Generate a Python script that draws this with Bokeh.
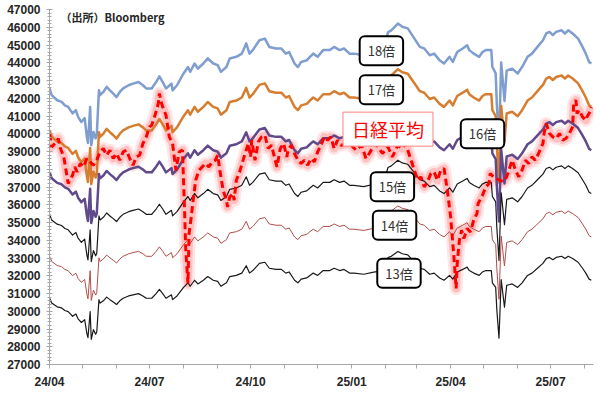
import pandas as pd
from bokeh.plotting import figure
from bokeh.models import Range1d, SingleIntervalTicker, FixedTicker, Label, CustomJSTickFormatter
from bokeh.embed import file_html
from bokeh.resources import INLINE

# ---------------- data ----------------
# Nikkei 225 12-month forward EPS (yen); PER bands = EPS x multiple
eps_dates = [
    "2024-04-01", "2024-04-03", "2024-04-08", "2024-04-12", "2024-04-15", "2024-04-18", "2024-04-22", "2024-04-25", "2024-04-27", "2024-04-30",
    "2024-05-03", "2024-05-05", "2024-05-06", "2024-05-08", "2024-05-09", "2024-05-11", "2024-05-13", "2024-05-14", "2024-05-16", "2024-05-17",
    "2024-05-20", "2024-05-23", "2024-05-26", "2024-05-29",
    "2024-06-01", "2024-06-04", "2024-06-07", "2024-06-12", "2024-06-16", "2024-06-21", "2024-06-25", "2024-06-28",
    "2024-07-03", "2024-07-07", "2024-07-10", "2024-07-13", "2024-07-16", "2024-07-21", "2024-07-22", "2024-07-26",
    "2024-08-01", "2024-08-05", "2024-08-07", "2024-08-11", "2024-08-14", "2024-08-19", "2024-08-23", "2024-08-28",
    "2024-09-01", "2024-09-04", "2024-09-09", "2024-09-12", "2024-09-18", "2024-09-23", "2024-09-27", "2024-09-30",
    "2024-10-03", "2024-10-09", "2024-10-14", "2024-10-18", "2024-10-24", "2024-10-29",
    "2024-11-02", "2024-11-05", "2024-11-10", "2024-11-13", "2024-11-16", "2024-11-21", "2024-11-24", "2024-11-27",
    "2024-12-01", "2024-12-06", "2024-12-12", "2024-12-16", "2024-12-21", "2024-12-25", "2024-12-30",
    "2025-01-03", "2025-01-12", "2025-01-21", "2025-01-30",
    "2025-02-03", "2025-02-06", "2025-02-12", "2025-02-16", "2025-02-21", "2025-02-25",
    "2025-03-04", "2025-03-08", "2025-03-13", "2025-03-17", "2025-03-22", "2025-03-26", "2025-03-31",
    "2025-04-03", "2025-04-07", "2025-04-12", "2025-04-16", "2025-04-18", "2025-04-22", "2025-04-27", "2025-04-30",
    "2025-05-03", "2025-05-08", "2025-05-09", "2025-05-12", "2025-05-13", "2025-05-15", "2025-05-17", "2025-05-20", "2025-05-22", "2025-05-27",
    "2025-06-01", "2025-06-05", "2025-06-10", "2025-06-14", "2025-06-19", "2025-06-24", "2025-06-27", "2025-06-30",
    "2025-07-03", "2025-07-06", "2025-07-11", "2025-07-14", "2025-07-17", "2025-07-21", "2025-07-26", "2025-07-30",
    "2025-08-02", "2025-08-05", "2025-08-07",
]
eps_values = [
    2365, 2343, 2327, 2322, 2311, 2306, 2286, 2296, 2275, 2259,
    2271, 2212, 2193, 2306, 2186, 2228, 2208, 2218, 2358, 2343,
    2353, 2369, 2358, 2348,
    2337, 2353, 2364, 2374, 2379, 2384, 2374, 2364,
    2364, 2384, 2402, 2384, 2364, 2379, 2358, 2374,
    2411, 2431, 2416, 2442, 2426, 2442, 2458, 2442,
    2437, 2416, 2431, 2458, 2463, 2473, 2505, 2473,
    2484, 2515, 2520, 2494, 2489, 2489,
    2473, 2478, 2442, 2431, 2447, 2452, 2463, 2473,
    2463, 2484, 2484, 2494, 2484, 2489, 2473,
    2473, 2468, 2477, 2484,
    2540, 2546, 2567, 2557, 2552, 2531,
    2494, 2489, 2468, 2473, 2452, 2442, 2463,
    2447, 2478, 2489, 2499, 2484, 2473, 2463, 2478,
    2484, 2484, 2431, 2411, 2317, 2191, 2445, 2325, 2420, 2426,
    2411, 2431, 2463, 2473, 2494, 2515, 2536, 2541,
    2531, 2541, 2546, 2536, 2546, 2536, 2520, 2494,
    2473, 2447, 2442,
]

nikkei_dates = [
    "2024-04-01", "2024-04-03", "2024-04-06", "2024-04-09", "2024-04-11", "2024-04-14", "2024-04-16", "2024-04-18", "2024-04-22", "2024-04-24", "2024-04-26", "2024-04-29",
    "2024-05-02", "2024-05-05", "2024-05-08", "2024-05-11", "2024-05-14", "2024-05-17", "2024-05-20", "2024-05-23", "2024-05-26", "2024-05-29",
    "2024-06-01", "2024-06-04", "2024-06-07", "2024-06-10", "2024-06-13", "2024-06-16", "2024-06-19", "2024-06-22", "2024-06-25", "2024-06-28",
    "2024-07-01", "2024-07-03", "2024-07-06", "2024-07-09", "2024-07-10", "2024-07-12", "2024-07-13", "2024-07-16", "2024-07-19", "2024-07-22", "2024-07-25", "2024-07-28", "2024-07-31",
    "2024-08-02", "2024-08-03", "2024-08-05", "2024-08-06", "2024-08-08", "2024-08-09", "2024-08-12", "2024-08-15", "2024-08-18", "2024-08-21", "2024-08-24", "2024-08-27", "2024-08-30",
    "2024-09-01", "2024-09-03", "2024-09-06", "2024-09-09", "2024-09-10", "2024-09-12", "2024-09-15", "2024-09-16", "2024-09-18", "2024-09-21", "2024-09-26", "2024-09-29",
    "2024-10-01", "2024-10-02", "2024-10-05", "2024-10-08", "2024-10-11", "2024-10-14", "2024-10-17", "2024-10-20", "2024-10-23", "2024-10-25", "2024-10-28", "2024-10-31",
    "2024-11-03", "2024-11-04", "2024-11-07", "2024-11-10", "2024-11-13", "2024-11-16", "2024-11-19", "2024-11-22", "2024-11-25", "2024-11-28",
    "2024-12-01", "2024-12-04", "2024-12-07", "2024-12-10", "2024-12-13", "2024-12-16", "2024-12-19", "2024-12-22", "2024-12-30",
    "2025-01-05", "2025-01-10", "2025-01-14", "2025-01-17", "2025-01-22", "2025-01-25", "2025-01-29",
    "2025-02-03", "2025-02-07", "2025-02-12", "2025-02-16", "2025-02-19", "2025-02-24", "2025-02-27",
    "2025-03-02", "2025-03-05", "2025-03-08", "2025-03-11", "2025-03-14", "2025-03-17", "2025-03-20", "2025-03-23", "2025-03-26", "2025-03-29",
    "2025-04-01", "2025-04-04", "2025-04-06", "2025-04-07", "2025-04-09", "2025-04-10", "2025-04-11", "2025-04-13", "2025-04-16", "2025-04-19", "2025-04-22", "2025-04-25", "2025-04-26", "2025-04-30",
    "2025-05-03", "2025-05-06", "2025-05-07", "2025-05-11", "2025-05-15", "2025-05-19", "2025-05-22", "2025-05-25", "2025-05-27", "2025-05-30",
    "2025-06-02", "2025-06-05", "2025-06-08", "2025-06-11", "2025-06-14", "2025-06-17", "2025-06-20", "2025-06-24", "2025-06-25", "2025-06-27", "2025-06-30",
    "2025-07-03", "2025-07-06", "2025-07-09", "2025-07-12", "2025-07-15", "2025-07-18", "2025-07-21", "2025-07-22", "2025-07-24", "2025-07-25", "2025-07-27", "2025-07-30",
    "2025-08-02", "2025-08-03", "2025-08-05", "2025-08-07",
]
nikkei_values = [
    40000, 39259, 39450, 39732, 39169, 38695, 37946, 37197, 37664, 38132, 37850, 38324,
    38132, 38605, 38414, 38228, 38510, 38977, 39169, 38791, 39073, 38605,
    38887, 38510, 38977, 39073, 38605, 38228, 38695, 38791, 39450, 39822,
    40386, 40481, 41044, 41704, 42267, 41704, 41512, 41044, 39822, 39450, 37946, 38977, 39073,
    35507, 33439, 31563, 34380, 35315, 35878, 37383, 37946, 38132, 38324, 38132, 38414, 38510,
    38791, 37946, 36819, 36256, 35878, 36442, 36633, 36256, 37383, 37850, 38887, 39450,
    38695, 39637, 38510, 39540, 39822, 39918, 39169, 39355, 38605, 38132, 39169, 39450,
    38695, 39073, 39355, 38887, 38510, 38324, 38510, 38228, 38605, 38414,
    38977, 39355, 39822, 39637, 39822, 39169, 39637, 39355, 39450,
    39073, 39355, 38605, 38887, 39450, 39259, 38887,
    39259, 38695, 39355, 39169, 39450, 38510, 37946,
    37383, 37570, 37007, 37290, 37760, 37850, 37383, 37946, 38042, 36819,
    35315, 33062, 31281, 32690, 34002, 34284, 34566, 34098, 34661, 34470, 35129, 35507, 36070, 36538,
    37007, 37197, 37760, 37500, 37400, 37300, 37570, 38132, 38510, 37946,
    37570, 37946, 38510, 38324, 38695, 38510, 38887, 39450, 40013, 40577, 40013,
    39822, 39732, 40013, 39637, 39732, 40013, 40386, 41704, 41890, 41140, 41327, 40949,
    40763, 40949, 41140, 41512,
]

multiples = [18, 17, 16, 15, 14, 13]
multiple_labels = ["18倍", "17倍", "16倍", "15倍", "14倍", "13倍"]
nikkei_label = "日経平均"
source_label = "（出所）Bloomberg"
tick_labels = ["24/04", "24/07", "24/10", "25/01", "25/04", "25/07"]

# ---------------- styling ----------------
per_colors = ["#7f9dcf", "#d77d2f", "#604a8c", "#1a1a1a", "#b04e4a", "#1a1a1a"]
per_widths = [2.5, 2.5, 2.5, 1.2, 1.0, 1.2]
# label box anchors (date, y) for each band label
label_pos = [("2025-01-28", 44680), ("2025-01-28", 42480), ("2025-04-30", 40000),
             ("2025-02-07", 37020), ("2025-02-09", 34850), ("2025-02-13", 32140)]
nikkei_label_pos = ("2025-02-03", 40260)
source_pos = ("2024-04-11", 46600)

def ms(d):
    return pd.Timestamp(d).value / 1e6

ed = pd.to_datetime(eps_dates)
nd = pd.to_datetime(nikkei_dates)

p = figure(width=600, height=395, x_axis_type="datetime",
           x_range=Range1d(ms("2024-04-01"), ms("2025-08-09")),
           y_range=Range1d(27000, 47000),
           output_backend="svg", toolbar_location=None,
           min_border_left=49, min_border_right=7, min_border_top=9, min_border_bottom=31)
p.outline_line_color = None
p.xgrid.visible = False
p.ygrid.visible = False
p.background_fill_color = "white"
p.border_fill_color = "white"

# axes
axis_color = "#a6a6a6"
month_starts = pd.date_range("2024-04-01", "2025-08-01", freq="MS")
p.xaxis.ticker = FixedTicker(ticks=[ms(t) for t in month_starts])
p.xaxis.formatter = CustomJSTickFormatter(args=dict(labels=tick_labels), code="""
const d = new Date(tick);
const yy = String(d.getUTCFullYear() % 100).padStart(2, '0');
const mm = String(d.getUTCMonth() + 1).padStart(2, '0');
const s = yy + '/' + mm;
return labels.includes(s) ? s : '';
""")
p.yaxis.ticker = SingleIntervalTicker(interval=1000, num_minor_ticks=5)
for ax in (p.xaxis[0], p.yaxis[0]):
    ax.axis_line_color = axis_color
    ax.major_tick_line_color = axis_color
    ax.minor_tick_line_color = axis_color
    ax.major_label_text_font = "Liberation Sans"
    ax.major_label_text_font_size = "12px"
    ax.major_label_text_font_style = "bold"
    ax.major_label_text_color = "#262626"
    ax.axis_label_standoff = 0
p.yaxis.major_tick_in = 3
p.yaxis.major_tick_out = 3
p.yaxis.minor_tick_in = 2
p.yaxis.minor_tick_out = 2
p.yaxis.major_label_standoff = 6
p.xaxis.major_tick_in = 0
p.xaxis.major_tick_out = 4
p.xaxis.minor_tick_line_color = None
p.xaxis.major_label_standoff = 6

# Nikkei glow (under the bands)
p.line(nd, nikkei_values, line_color="#ff0000", line_alpha=0.10, line_width=13, line_join="round")
p.line(nd, nikkei_values, line_color="#ff0000", line_alpha=0.16, line_width=8, line_join="round")

# PER bands
for m, c, w in zip(multiples, per_colors, per_widths):
    p.line(ed, [e * m for e in eps_values], line_color=c, line_width=w, line_join="round")

# Nikkei dashed line
p.line(nd, nikkei_values, line_color="#ff0000", line_width=3, line_dash="7 4")

# band labels
for txt, (d, y) in zip(multiple_labels, label_pos):
    p.add_layout(Label(x=ms(d), y=y, text=txt, text_align="center", text_baseline="middle",
                       text_font="Noto Sans CJK JP", text_font_size="13px", text_color="#333333",
                       background_fill_color="white", border_line_color="black",
                       border_line_width=2, border_radius=5, padding=(8, 5)))

p.add_layout(Label(x=ms(nikkei_label_pos[0]), y=nikkei_label_pos[1], text=nikkei_label,
                   text_align="center", text_baseline="middle",
                   text_font="Noto Sans CJK JP", text_font_size="18px", text_color="#ff0000",
                   background_fill_color="white", border_line_color="#ff8080",
                   border_line_width=1, padding=(9, 4)))

p.add_layout(Label(x=ms(source_pos[0]), y=source_pos[1], text=source_label,
                   text_align="left", text_baseline="middle",
                   text_font="Noto Sans CJK JP", text_font_size="11px", text_font_style="bold",
                   text_color="#262626"))

open("out.html", "w").write(file_html(p, INLINE))
